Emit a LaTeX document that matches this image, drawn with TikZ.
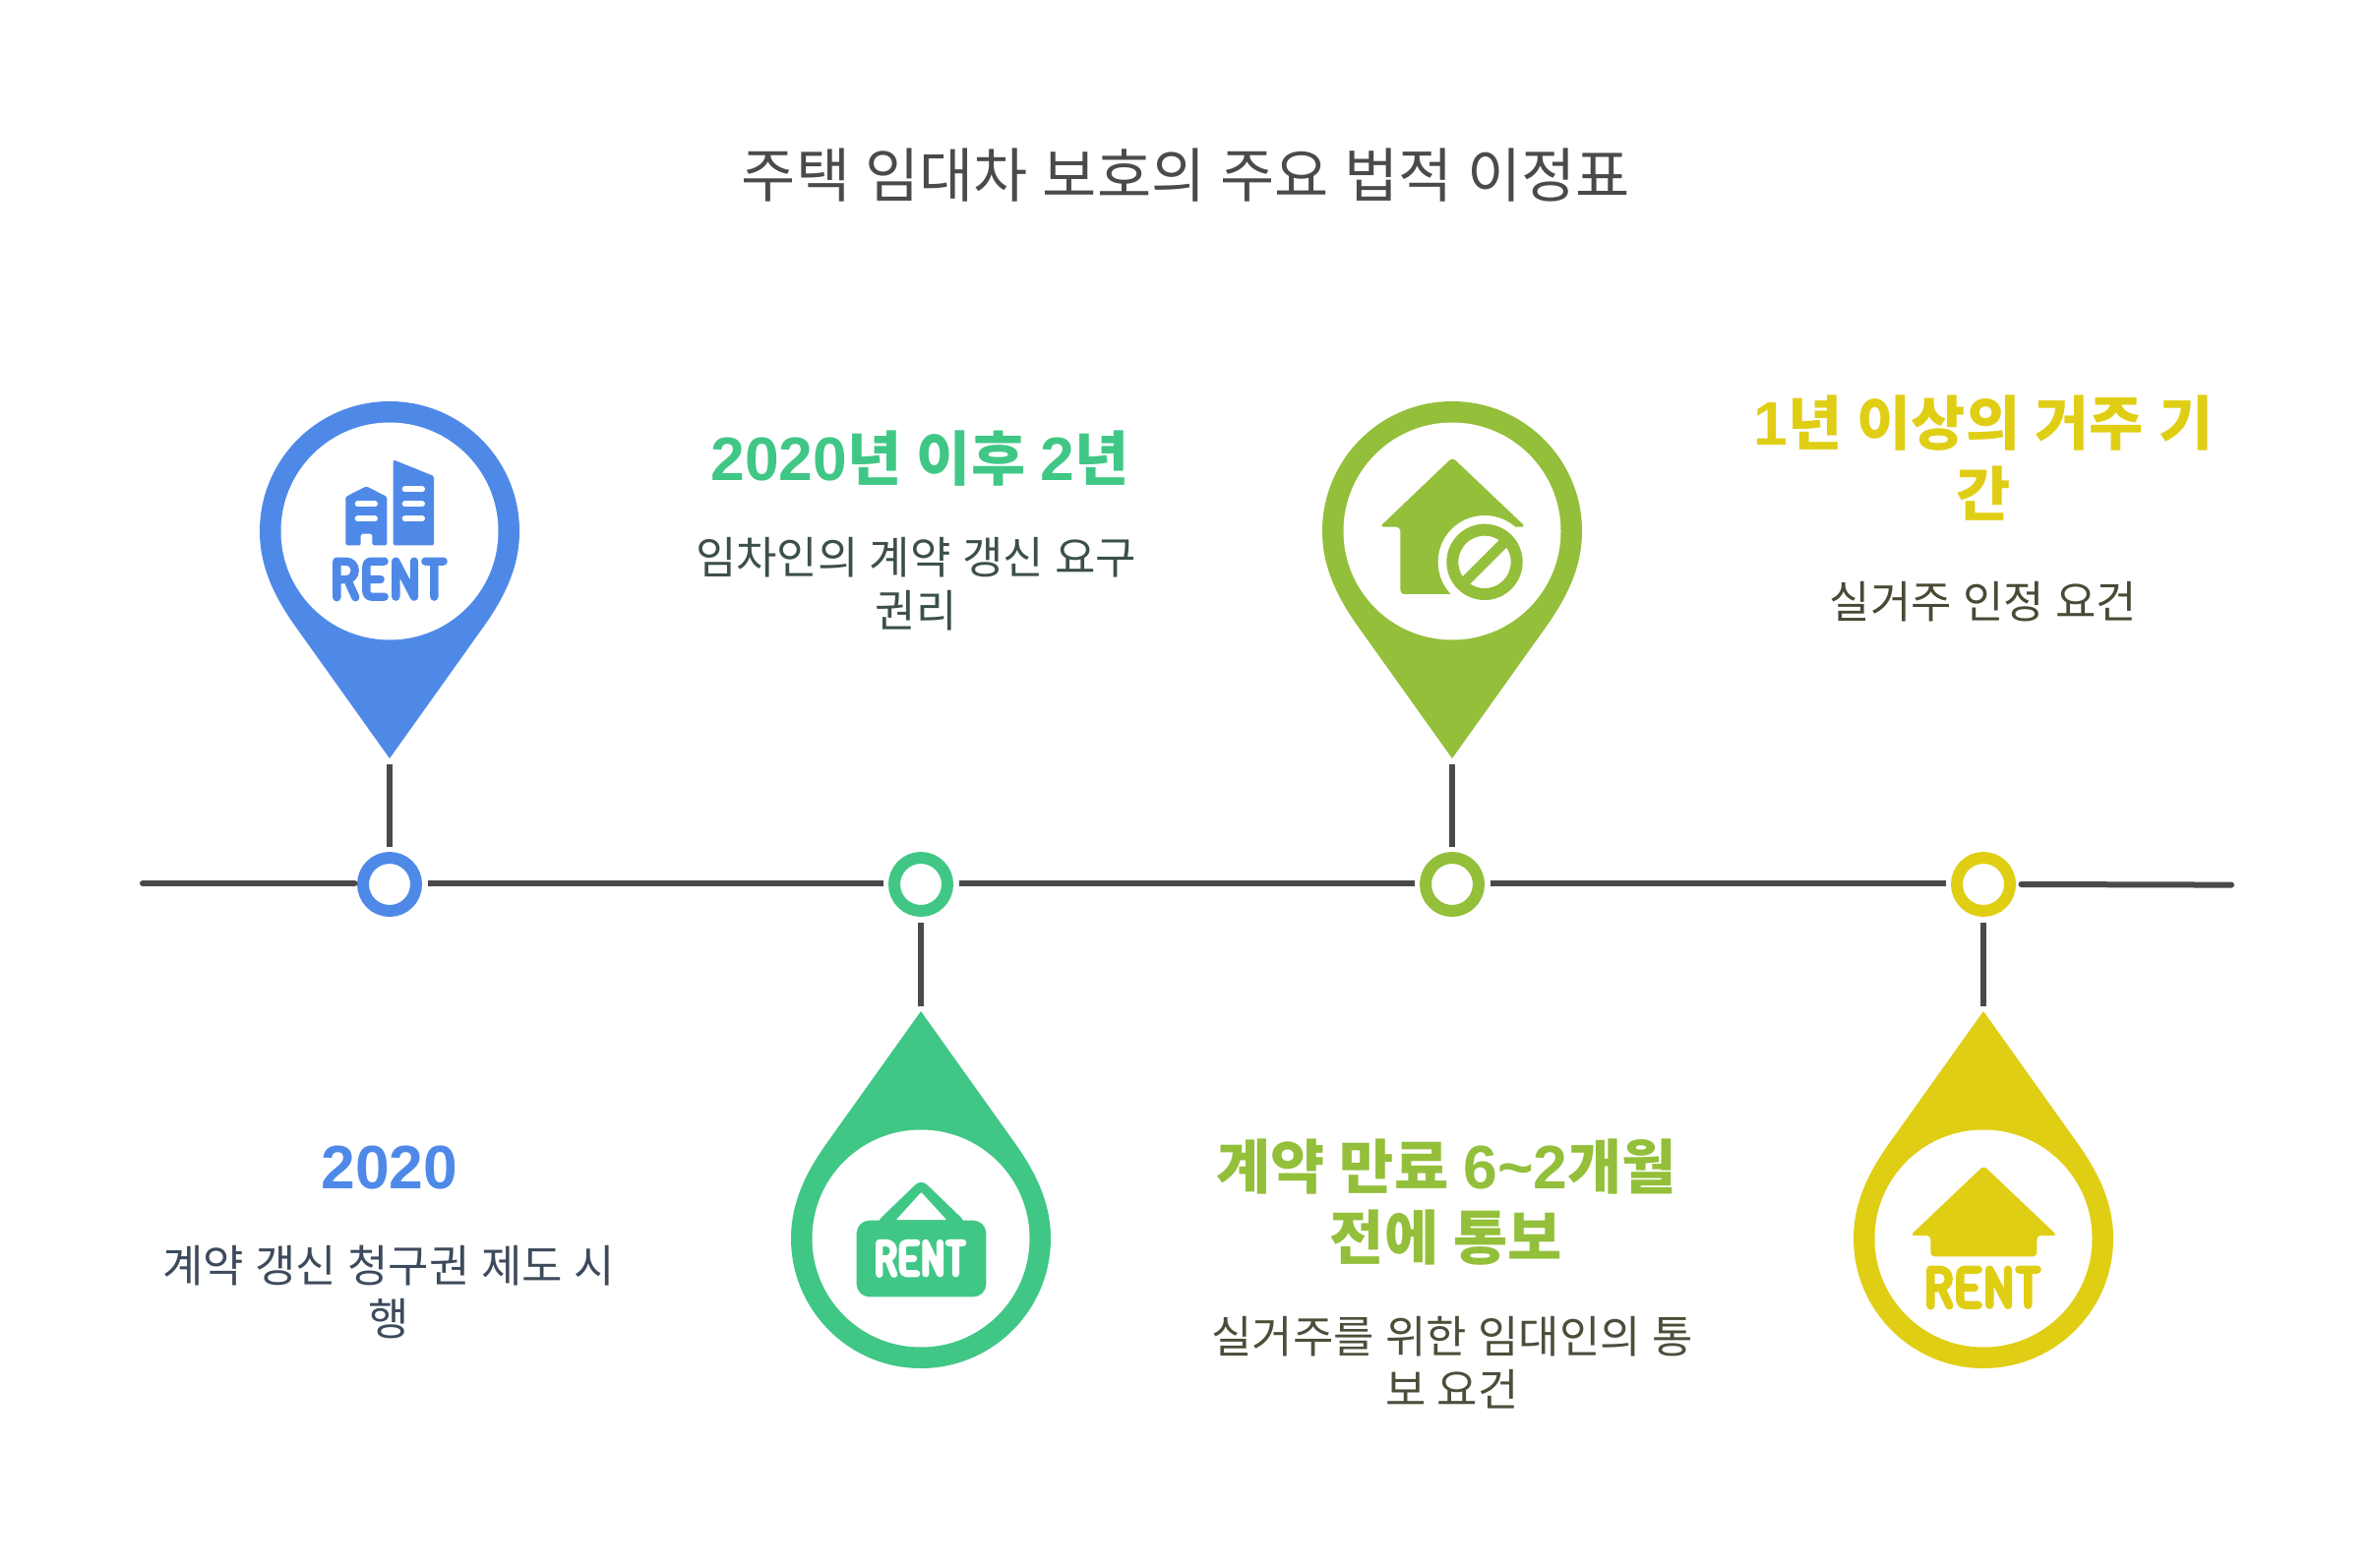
\documentclass[tikz,border=0pt]{standalone}
\usepackage{fontspec}
\setmainfont[WordSpace=1.12]{Noto Sans CJK KR}
\newfontfamily\latn[Scale=1.04]{Liberation Sans}
\definecolor{cblue}{HTML}{4F89E8}
\definecolor{cgreen}{HTML}{40C786}
\definecolor{colive}{HTML}{93BF3A}
\definecolor{cyellow}{HTML}{E0CE15}
\definecolor{cline}{HTML}{4A4A4A}
\definecolor{tblue}{HTML}{3D4A5C}
\definecolor{tgreen}{HTML}{3C5045}
\definecolor{tolive}{HTML}{4A4F3A}
\definecolor{tyellow}{HTML}{4A4935}
\tikzset{
  tl/.style={draw=cline,line width=6pt},
  ring/.style={circle,draw=#1,line width=12pt,fill=white,minimum size=54pt,inner sep=0pt,outer sep=11.5pt},
  titletext/.style={inner sep=0pt,font=\fontsize{60}{72}\selectfont,text=cline},
  headtext/.style={inner sep=0pt,align=center,font=\fontsize{60}{72}\selectfont\bfseries,text=#1},
  bodytext/.style={inner sep=0pt,align=center,font=\fontsize{45}{54}\selectfont,text=#1},
  zoomgrid/.style={x=0.33333pt,y=-0.33333pt},
  ink/.style={line cap=round,line join=round}
}
\newcommand{\pinshape}[4]{%
  \begin{scope}[shift={(#2,#3)},yscale=#4]
    \fill[#1] (0,231) -- (-97,95) .. controls (-118,65) and (-132,35) .. (-132,0)
      .. controls (-132,-72.9) and (-72.9,-132) .. (0,-132)
      .. controls (72.9,-132) and (132,-72.9) .. (132,0)
      .. controls (132,35) and (118,65) .. (97,95) -- cycle;
    \fill[white] (0,0) circle[radius=110.5];
  \end{scope}}
\newcommand{\rentword}[2]{%
  \draw[#1,ink,line width=#2]
    (12,122) -- (12,12) -- (38,12) .. controls (58,12) and (67,26) .. (67,40)
      .. controls (67,56) and (55,68) .. (38,68) -- (12,68)
    (50,80) -- (69,122)
    (157,12) -- (118,12) .. controls (108,12) and (102,18) .. (102,30) -- (102,102)
      .. controls (102,112) and (108,120) .. (118,120) -- (157,120)
    (102,67) -- (145,67)
    (192,120) -- (192,12) -- (248,120) -- (248,12)
    (282,12) -- (337,12) (309,12) -- (309,120);}
\begin{document}
\begin{tikzpicture}[x=1pt,y=-1pt]
\useasboundingbox (0,0) rectangle (2412,1594);
\fill[white] (0,0) rectangle (2412,1594);

\node[titletext] (title) at (1205.5,178.5) {주택 임대차 보호의 주요 법적 이정표};

% pins
\pinshape{cblue}{396}{540}{1}
\pinshape{cgreen}{936}{1259}{-1}
\pinshape{colive}{1476}{540}{1}
\pinshape{cyellow}{2016}{1259}{-1}

% icon 1: buildings
\begin{scope}[shift={(240,390)},zoomgrid]
  \fill[cblue,rounded corners=1.5pt] (334,345) -- (397,313) -- (460,345) -- (460,493) -- (415,493) -- (415,458) -- (380,458) -- (380,493) -- (334,493) -- cycle;
  \fill[cblue,rounded corners=1.5pt] (479,232) -- (603,282) -- (603,493) -- (479,493) -- cycle;
  \draw[white,ink,line width=6pt] (371,367) -- (423,367) (371,412) -- (423,412)
     (515,322) -- (567,322) (515,367) -- (567,367) (515,412) -- (567,412);
  \begin{scope}[shift={(295,530)}]
    \rentword{cblue}{8.33pt}
  \end{scope}
\end{scope}

% icon 2: hanging sign
\begin{scope}[shift={(780,1010)},zoomgrid]
  \fill[cgreen,rounded corners=13pt] (272,692) rectangle (667,925);
  \fill[cgreen,rounded corners=8pt] (330,700) -- (469,566) -- (608,700) -- cycle;
  \fill[white,rounded corners=0.7pt] (393,690) -- (469,606) -- (546,690) -- cycle;
  \begin{scope}[shift={(332,750)},xscale=0.784,yscale=0.87]
    \rentword{white}{7.2pt}
  \end{scope}
\end{scope}

% icon 3: house with prohibition sign
\begin{scope}[shift={(1320,390)},zoomgrid]
  \fill[colive,rounded corners=4pt] (247,437) -- (469,225) -- (692,437) -- (620,437) -- (620,642) -- (310,642) -- (310,437) -- cycle;
  \fill[white] (567,544) circle[radius=142];
  \draw[colive,line width=12pt] (567,544) circle[radius=98];
  \draw[colive,line width=10.5pt] (501,610) -- (633,478);
\end{scope}

% icon 4: house
\begin{scope}[shift={(1860,1010)},zoomgrid]
  \fill[cyellow,rounded corners=4pt] (245,738) -- (469,525) -- (693,738) -- (631,738) -- (631,802) -- (307,802) -- (307,738) -- cycle;
  \begin{scope}[shift={(295,830)}]
    \rentword{cyellow}{8.33pt}
  \end{scope}
\end{scope}

% timeline
\coordinate (tlstart) at (145,899);
\coordinate (tlend) at (2268,899.6);
\node[ring=cblue] (c1) at (396,899) {};
\node[ring=cgreen] (c2) at (936,899) {};
\node[ring=colive] (c3) at (1476,899) {};
\node[ring=cyellow] (c4) at (2016,899) {};
\coordinate (a1) at (396,777);
\coordinate (a2) at (936,1023);
\coordinate (a3) at (1476,777);
\coordinate (a4) at (2016,1023);
\begin{scope}[transform canvas={yshift=1pt}]
  \draw[tl,line cap=round,shorten >=-3pt] (tlstart) -- (c1.west);
  \draw[tl] (c1.east) -- (c2.west);
  \draw[tl] (c2.east) -- (c3.west);
  \draw[tl] (c3.east) -- (c4.west);
\end{scope}
\draw[tl,line cap=round] (c4.east) -- (tlend);
\draw[tl] (c1.north) -- (a1);
\draw[tl] (c2.south) -- (a2);
\draw[tl] (c3.north) -- (a3);
\draw[tl] (c4.south) -- (a4);

% labels
\node[headtext=cblue] (h1) at (396,1187) {\latn 2020};
\node[bodytext=tblue] (b1) at (395,1313.5) {계약 갱신 청구권 제도 시\\행};
\node[headtext=cgreen] (h2) at (935,466) {{\latn 2020}년 이후 {\latn 2}년};
\node[bodytext=tgreen] (b2) at (931,593.5) {임차인의 계약 갱신 요구\\권리};
\node[headtext=colive] (h3) at (1470,1222) {계약 만료 {\latn 6\textasciitilde 2}개월\\전에 통보};
\node[bodytext=tolive] (b3) at (1476,1385) {실거주를 위한 임대인의 통\\보 요건};
\node[headtext=cyellow] (h4) at (2016,465.5) {{\latn 1}년 이상의 거주 기\\간};
\node[bodytext=tyellow] (b4) at (2016,611.5) {실거주 인정 요건};
\end{tikzpicture}
\end{document}
